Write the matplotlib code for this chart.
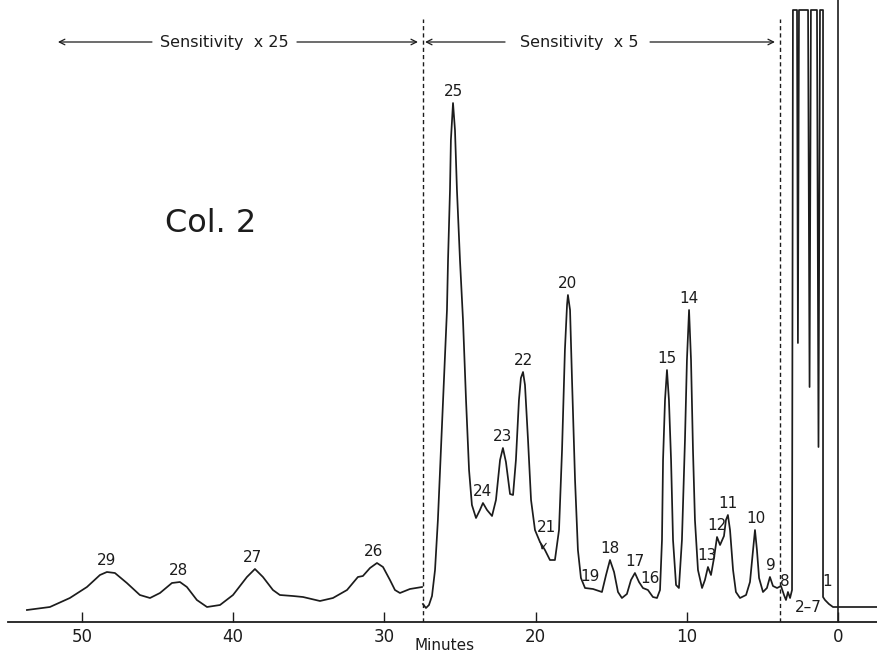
import matplotlib.pyplot as plt
import numpy as np

# chromatogram trace, time in minutes, response in chart units
# part recorded at sensitivity x25
t_low = [53.64, 52.12, 50.80, 49.67, 48.81, 48.35, 47.82, 47.03, 46.17, 45.50,
         44.84, 44.05, 43.52, 43.06, 42.40, 41.73, 40.87, 40.01, 39.09, 38.56,
         38.03, 37.37, 36.91, 36.05, 35.38, 34.26, 33.40, 32.47, 31.75, 31.42,
         30.95, 30.49, 30.09, 29.63, 29.30, 28.97, 28.31, 27.51]
y_low = [-3, 0, 9, 20, 32, 35, 34, 24, 12, 9,
         14, 24, 25, 20, 7, 0, 2, 12, 30, 38,
         30, 17, 12, 11, 10, 6, 9, 17, 30, 31,
         39, 44, 40, 27, 17, 14, 18, 20]

# part recorded at sensitivity x5 (pen clipped at 597)
t_high = [27.45, 27.25, 27.05, 26.85, 26.65, 26.46, 26.26, 26.06, 25.86, 25.79,
          25.66, 25.60, 25.46, 25.33, 25.20, 25.00, 24.80, 24.60, 24.40, 24.21,
          23.94, 23.68, 23.48, 23.21, 22.88, 22.62, 22.35, 22.16, 21.96, 21.69,
          21.49, 21.30, 21.10, 20.97, 20.83, 20.70, 20.50, 20.30, 20.04, 19.71,
          19.38, 19.05, 18.72, 18.45, 18.25, 18.06, 17.92, 17.86, 17.72, 17.59,
          17.39, 17.20, 17.00, 16.73, 16.20, 15.61, 15.34, 15.08, 14.81, 14.55,
          14.29, 13.96, 13.69, 13.43, 13.16, 12.90, 12.57, 12.24, 11.97, 11.77,
          11.64, 11.57, 11.44, 11.31, 11.18, 11.04, 10.91, 10.71, 10.52, 10.32,
          10.12, 9.99, 9.85, 9.72, 9.59, 9.46, 9.26, 8.99, 8.80, 8.60,
          8.40, 8.20, 8.00, 7.80, 7.54, 7.41, 7.28, 7.14, 6.94, 6.75,
          6.48, 6.08, 5.82, 5.62, 5.49, 5.36, 5.22, 4.96, 4.70, 4.50,
          4.30, 4.03, 3.77, 3.57, 3.44, 3.31, 3.17, 3.04, 2.98, 2.71,
          2.65, 2.58, 1.98, 1.88, 1.79, 1.39, 1.29, 1.19, 0.99, 0.99,
          0.86, 0.60, 0.33, -2.58]
y_high = [3, -1, 2, 11, 37, 87, 157, 227, 297, 347,
          417, 467, 504, 477, 417, 347, 287, 207, 137, 102,
          89, 97, 104, 97, 91, 107, 147, 159, 145, 113,
          112, 147, 207, 229, 235, 222, 167, 107, 77, 65,
          57, 47, 47, 77, 157, 257, 302, 312, 297, 227,
          127, 57, 29, 19, 18, 15, 32, 47, 35, 15,
          9, 13, 27, 34, 25, 19, 17, 10, 9, 17,
          67, 147, 207, 237, 207, 147, 67, 22, 19, 67,
          167, 247, 297, 247, 157, 87, 37, 19, 27, 40,
          32, 49, 70, 62, 71, 87, 92, 77, 37, 15,
          9, 12, 25, 57, 77, 57, 29, 15, 19, 30,
          21, 19, 21, 12, 7, 15, 9, 17, 597, 597,
          264, 597, 597, 220, 597, 597, 160, 597, 597, 10,
          7, 3, 0, 0]

# peak numbers with apex time / apex height
peak_names = ['29', '28', '27', '26', '25', '24', '23', '22', '20', '19',
              '18', '17', '16', '15', '14', '13', '12', '11', '10', '9', '8']
peak_t = [48.40, 43.60, 38.70, 30.70, 25.46, 23.48, 22.16, 20.83, 17.86, 16.40,
          15.10, 13.45, 12.40, 11.31, 9.85, 8.65, 8.00, 7.30, 5.42, 4.45, 3.50]
peak_h = [35, 25, 38, 44, 504, 104, 159, 235, 312, 19,
          47, 34, 17, 237, 297, 40, 70, 92, 77, 30, 14]

ticks = [50, 40, 30, 20, 10, 0]
ink = '#1c1c1c'

fig = plt.figure(figsize=(8.77, 6.53), dpi=100)
ax = fig.add_axes([0, 31 / 653, 1, 622 / 653])
ax.set_xlim(55.42, -2.58)
ax.set_ylim(-15, 607)

ax.plot(t_low, y_low, color=ink, lw=1.25)
ax.plot(t_high, y_high, color=ink, lw=1.25)

# injection marker at zero
ax.vlines(0, -15, 607, color=ink, lw=1.2)

# sensitivity change lines
ax.vlines([27.45, 3.84], -15, 588, color=ink, lw=1.0, linestyles=(0, (3, 2.2)))

for name, t, h in zip(peak_names, peak_t, peak_h):
    ax.annotate(name, (t, h), xytext=(0, 8), textcoords='offset points',
                ha='center', va='center', fontsize=11, color=ink)

ax.annotate('21', xy=(19.58, 57), xytext=(19.31, 80), ha='center', va='center',
            fontsize=11, color=ink,
            arrowprops=dict(arrowstyle='->', lw=0.8, color=ink,
                            shrinkA=6, shrinkB=0))
ax.text(1.98, -1, '2\u20137', ha='center', va='center', fontsize=11, color=ink)
ax.text(0.72, 26, '1', ha='center', va='center', fontsize=11, color=ink)

ax.text(41.5, 383, 'Col. 2', ha='center', va='center', fontsize=23, color=ink)

# sensitivity headers
arrow = dict(arrowstyle='->', lw=0.9, color=ink, shrinkA=0, shrinkB=0)
ax.text(40.6, 565, 'Sensitivity  x 25', ha='center', va='center', fontsize=11.5, color=ink)
ax.annotate('', xy=(51.59, 565), xytext=(45.37, 565), arrowprops=arrow)
ax.annotate('', xy=(27.78, 565), xytext=(35.78, 565), arrowprops=arrow)
ax.text(17.1, 565, 'Sensitivity  x 5', ha='center', va='center', fontsize=11.5, color=ink)
ax.annotate('', xy=(27.31, 565), xytext=(22.02, 565), arrowprops=arrow)
ax.annotate('', xy=(4.17, 565), xytext=(12.43, 565), arrowprops=arrow)

for s in ['left', 'right', 'top']:
    ax.spines[s].set_visible(False)
ax.spines['bottom'].set_bounds(54.9, -2.58)
ax.spines['bottom'].set_color(ink)
ax.spines['bottom'].set_linewidth(1.3)
ax.set_yticks([])
ax.set_xticks(ticks)
ax.set_xticklabels([str(v) for v in ticks])
ax.tick_params(axis='x', direction='in', length=7, width=1, pad=4,
               labelsize=12, colors=ink)
ax.text(26.0, -38, 'Minutes', ha='center', va='center', fontsize=11,
        color=ink, clip_on=False)

fig.savefig('out.png', dpi=100)
